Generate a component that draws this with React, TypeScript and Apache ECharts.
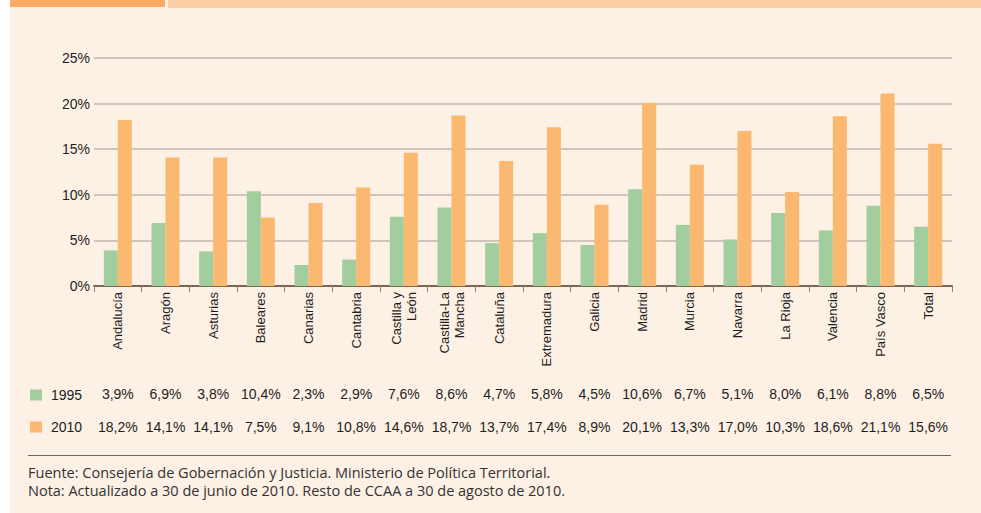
import React, { useEffect, useRef } from "react";
import * as echarts from "echarts";

const categories = [
  "Andalucía", "Aragón", "Asturias", "Baleares", "Canarias", "Cantabria",
  "Castilla y\nLeón", "Castilla-La\nMancha", "Cataluña", "Extremadura", "Galicia",
  "Madrid", "Murcia", "Navarra", "La Rioja", "Valencia", "País Vasco", "Total",
];
const values1995 = [3.9, 6.9, 3.8, 10.4, 2.3, 2.9, 7.6, 8.6, 4.7, 5.8, 4.5, 10.6, 6.7, 5.1, 8.0, 6.1, 8.8, 6.5];
const values2010 = [18.2, 14.1, 14.1, 7.5, 9.1, 10.8, 14.6, 18.7, 13.7, 17.4, 8.9, 20.1, 13.3, 17.0, 10.3, 18.6, 21.1, 15.6];
const seriesNames = ["1995", "2010"];
const yMin = 0;
const yMax = 25;
const yInterval = 5;
const footnotes = [
  "Fuente: Consejería de Gobernación y Justicia. Ministerio de Política Territorial.",
  "Nota: Actualizado a 30 de junio de 2010. Resto de CCAA a 30 de agosto de 2010.",
];

const fmt = (v: number) => v.toFixed(1).replace(".", ",") + "%";

export default function App() {
  const ref = useRef<HTMLDivElement>(null);
  useEffect(() => {
    if (!ref.current) return;
    const chart = echarts.init(ref.current, null, { renderer: "svg" });
    const font = "Liberation Sans";
    const tableAxis = (data: string[], offset: number) => ({
      type: "category",
      data,
      position: "bottom",
      offset,
      axisLine: { show: false },
      axisTick: { show: false },
      splitLine: { show: false },
      axisLabel: { interval: 0, margin: 8, fontSize: 14, color: "#1e1e1e", fontFamily: font },
    });
    chart.setOption({
      animation: false,
      backgroundColor: "#fdf0e4",
      textStyle: { fontFamily: font },
      grid: { left: 84, right: 29, top: 58, bottom: 227, containLabel: false },
      legend: {
        orient: "vertical",
        left: 20,
        top: 388,
        padding: 0,
        itemWidth: 12,
        itemHeight: 11,
        itemGap: 18,
        icon: "rect",
        data: seriesNames,
        textStyle: { fontSize: 14, color: "#1e1e1e", fontFamily: font, lineHeight: 14, padding: [0, 0, 0, 4] },
      },
      xAxis: [
        {
          type: "category",
          data: categories,
          position: "bottom",
          axisLine: { lineStyle: { color: "#7b6753", width: 2 } },
          axisTick: { show: true, length: 6, lineStyle: { color: "#8c8279", width: 1 } },
          axisLabel: { rotate: 90, interval: 0, margin: 6, fontSize: 13, color: "#1e1e1e", fontFamily: font, lineHeight: 15 },
          splitLine: { show: false },
        },
        tableAxis(values1995.map(fmt), 93),
        tableAxis(values2010.map(fmt), 126),
      ],
      yAxis: {
        type: "value",
        min: yMin,
        max: yMax,
        interval: yInterval,
        axisLine: { show: false },
        axisTick: { show: false },
        axisLabel: { formatter: "{value}%", fontSize: 14, color: "#1e1e1e", margin: 4, fontFamily: font },
        splitLine: { lineStyle: { color: "#bfb7af", width: 1.5 } },
      },
      series: [
        {
          name: seriesNames[0],
          type: "bar",
          data: values1995,
          xAxisIndex: 0,
          barWidth: 14,
          barGap: "0%",
          itemStyle: { color: "#a2cd9e" },
        },
        {
          name: seriesNames[1],
          type: "bar",
          data: values2010,
          xAxisIndex: 0,
          barWidth: 14,
          barGap: "0%",
          itemStyle: { color: "#fbb870" },
        },
      ],
      graphic: [
        { type: "rect", left: 0, top: 0, shape: { width: 155, height: 7 }, style: { fill: "#fdaa62" } },
        { type: "rect", left: 158, top: 0, shape: { width: 813, height: 8 }, style: { fill: "#fecfa5" } },
        { type: "line", shape: { x1: 18, y1: 455.5, x2: 941, y2: 455.5 }, style: { stroke: "#6b6460", lineWidth: 1 } },
        { type: "text", left: 18, top: 465, style: { text: footnotes[0], font: "14.5px 'Open Sans', 'Noto Sans', sans-serif", fill: "#333" } },
        { type: "text", left: 18, top: 483, style: { text: footnotes[1], font: "14.5px 'Open Sans', 'Noto Sans', sans-serif", fill: "#333" } },
      ],
    });
    return () => chart.dispose();
  }, []);
  return (
    <div style={{ position: "fixed", left: 0, top: 0, width: 981, height: 513, background: "#ffffff" }}>
      <div ref={ref} style={{ position: "absolute", left: 10, top: 0, width: 971, height: 513 }} />
    </div>
  );
}
